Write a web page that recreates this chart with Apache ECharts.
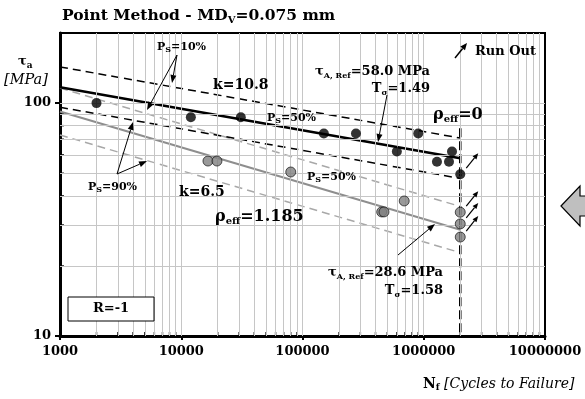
<!DOCTYPE html>
<html>
<head>
<meta charset="utf-8">
<script src="https://cdn.jsdelivr.net/npm/echarts@6/dist/echarts.min.js"></script>
<style>
  html, body { margin: 0; padding: 0; background: #fff; }
  #chart { width: 585px; height: 399px; }
</style>
</head>
<body>
<div id="chart"></div>
<script>
// axis ticks / grid
const xTicks = [1000, 10000, 100000, 1000000, 10000000];
const yTicks = [10, 100];
const xMinorGrid = [2000, 3000, 4000, 5000, 6000, 7000, 8000, 9000,
  20000, 30000, 40000, 50000, 60000, 70000, 80000, 90000,
  200000, 300000, 400000, 500000, 600000, 700000, 800000, 900000,
  2000000, 3000000, 4000000, 5000000, 6000000, 7000000, 8000000, 9000000];
const yMinorGrid = [20, 30, 40, 50, 60, 70, 80, 90];

// MD_V = 0.075 mm, rho_eff = 0 (black)
const blackFailures = [[2000, 100], [12000, 87], [31000, 87], [150000, 74], [276000, 74],
  [900000, 74], [600000, 62], [1710000, 62], [1285000, 56], [1615000, 56]];
const blackRunOut = [[2000000, 49.5]];
const blackP50 = [[1000, 117], [2000000, 58.0]];
const blackP10 = [[1000, 143], [2000000, 70.8]];
const blackP90 = [[1000, 96], [2000000, 47.5]];

// rho_eff = 1.185 (grey)
const greyFailures = [[16600, 56.4], [19700, 56.4], [80000, 50.6], [690000, 38],
  [450000, 34.1], [470000, 34.1]];
const greyRunOut = [[2000000, 34], [2000000, 30.3], [2000000, 26.6]];
const greyP50 = [[1000, 92], [2000000, 28.6]];
const greyP10 = [[1000, 116], [2000000, 36.0]];
const greyP90 = [[1000, 73], [2000000, 22.8]];

const runOutLimit = [[2000000, 78], [2000000, 10]];

const FONT = 'DejaVu Serif';
const GRID = '#c6c6c6';

const chart = echarts.init(document.getElementById('chart'));

function lineSeries(data, color, width, dashed) {
  return {
    type: 'line', data, symbol: 'none', z: 3, silent: true,
    lineStyle: { color, width, type: dashed ? [8, 5] : 'solid' }
  };
}

const isMajor = (v, list) => list.some(t => Math.abs(t - v) < 1e-6 * t);

chart.setOption({
  animation: false,
  grid: { left: 60, right: 40, top: 33, bottom: 63, show: true, borderColor: '#000', borderWidth: 2 },
  xAxis: {
    type: 'log', logBase: 10, min: 1000, max: 10000000, splitNumber: 4,
    axisLine: { lineStyle: { color: '#000', width: 3 } },
    axisTick: { length: 4, lineStyle: { color: '#000', width: 2 } },
    axisLabel: { fontFamily: FONT, fontWeight: 'bold', fontSize: 13, color: '#000', margin: 9,
      formatter: v => isMajor(v, xTicks) ? String(Math.round(v)) : '' },
    splitLine: { show: false }
  },
  yAxis: {
    type: 'log', logBase: 10, min: 10, max: 200, splitNumber: 1,
    axisLine: { lineStyle: { color: '#000', width: 3 } },
    axisTick: { length: 5, lineStyle: { color: '#000', width: 2 } },
    axisLabel: { fontFamily: FONT, fontWeight: 'bold', fontSize: 13, color: '#000', margin: 9,
      showMaxLabel: false,
      formatter: v => isMajor(v, yTicks) ? String(Math.round(v)) : '' },
    splitLine: { show: false }
  },
  series: [
    {
      type: 'line', data: [], z: 1, silent: true,
      markLine: {
        silent: true, symbol: 'none', animation: false,
        label: { show: false },
        lineStyle: { color: GRID, width: 1, type: 'solid' },
        data: xMinorGrid.concat(xTicks.slice(1, -1)).map(v => ({ xAxis: v }))
          .concat(yMinorGrid.concat([100]).map(v => ({ yAxis: v })))
      }
    },
    {
      type: 'scatter', z: 2, silent: true, symbol: 'rect', symbolSize: [1.5, 4], symbolOffset: [0, -2],
      itemStyle: { color: '#000' }, data: xMinorGrid.map(v => [v, 10])
    },
    {
      type: 'scatter', z: 2, silent: true, symbol: 'rect', symbolSize: [4, 1.5], symbolOffset: [2, 0],
      itemStyle: { color: '#000' }, data: yMinorGrid.map(v => [1000, v])
    },
    lineSeries(greyP10, '#a8a8a8', 1.5, true),
    lineSeries(greyP90, '#a8a8a8', 1.5, true),
    lineSeries(greyP50, '#8e8e8e', 2, false),
    lineSeries(blackP10, '#000', 1.5, true),
    lineSeries(blackP90, '#000', 1.5, true),
    lineSeries(blackP50, '#000', 2.5, false),
    {
      type: 'line', data: runOutLimit, symbol: 'none', z: 4, silent: true,
      lineStyle: { color: '#000', width: 2.5, type: [9, 4] }
    },
    {
      type: 'scatter', data: blackFailures.concat(blackRunOut), symbolSize: 10, z: 6,
      itemStyle: { color: '#000' }
    },
    {
      type: 'scatter', data: greyFailures.concat(greyRunOut), symbolSize: 10, z: 6,
      itemStyle: { color: '#808080', borderColor: '#000', borderWidth: 0.8 }
    }
  ]
});

// ---- annotations ----
function arrow(x1, y1, x2, y2, w, hl, hw) {
  w = w || 1; hl = hl || 8; hw = hw || 3;
  const dx = x2 - x1, dy = y2 - y1, L = Math.hypot(dx, dy), ux = dx / L, uy = dy / L;
  const bx = x2 - ux * hl, by = y2 - uy * hl;
  return [
    { type: 'line', z: 50, silent: true, shape: { x1, y1, x2: bx, y2: by }, style: { stroke: '#000', lineWidth: w } },
    { type: 'polygon', z: 50, silent: true,
      shape: { points: [[x2, y2], [bx - uy * hw, by + ux * hw], [bx + uy * hw, by - ux * hw]] },
      style: { fill: '#000' } }
  ];
}

function rich(main, sub, ital) {
  const lh = main + 3;
  return {
    m: { fontFamily: FONT, fontWeight: 'bold', fontSize: main, lineHeight: lh, verticalAlign: 'middle', fill: '#000' },
    s: { fontFamily: FONT, fontWeight: 'bold', fontSize: sub, lineHeight: lh, verticalAlign: 'bottom', fill: '#000' },
    i: { fontFamily: FONT, fontStyle: 'italic', fontSize: ital || main, lineHeight: lh, verticalAlign: 'middle', fill: '#000' }
  };
}

function text(x, y, str, main, sub, align, ital) {
  return { type: 'text', z: 60, silent: true, x, y,
    style: { text: str, rich: rich(main, sub || Math.round(main * 0.65), ital), align: align || 'left', verticalAlign: 'middle' } };
}

const g = [];
// titles
g.push(text(62, 16, '{m|Point Method - MD}{s|V}{m|=0.075 mm}', 15.5, 10));
g.push(text(18, 62, '{m|τ}{s|a}', 13, 9));
g.push({ type: 'text', z: 60, silent: true, x: 4, y: 80,
  style: { text: '[MPa]', fontFamily: FONT, fontStyle: 'italic', fontSize: 14.5, fill: '#000', verticalAlign: 'middle' } });
g.push(text(423, 384, '{m|N}{s|f}{i| [Cycles to Failure]}', 14, 9, 'left', 14));

// black family
g.push(text(157, 47, '{m|P}{s|S}{m|=10%}', 11, 8));
g.push(...arrow(177, 55, 172, 83));
g.push(...arrow(177, 55, 147, 110));
g.push(text(213, 85, '{m|k=10.8}', 14));
g.push(text(267, 118, '{m|P}{s|S}{m|=50%}', 11, 8));
g.push(text(315, 72, '{m|τ}{s|A, Ref}{m|=58.0 MPa}', 13, 8));
g.push(text(430, 89, '{m|T}{s|σ}{m|=1.49}', 13, 8, 'right'));
g.push(...arrow(387, 95, 378, 142));
g.push(text(433, 115, '{m|ρ}{s|eff}{m|=0}', 16, 10));

// grey family
g.push(text(88, 187, '{m|P}{s|S}{m|=90%}', 11, 8));
g.push(...arrow(117, 174, 133, 122));
g.push(...arrow(117, 174, 147, 161));
g.push(text(179, 192, '{m|k=6.5}', 14));
g.push(text(215, 217, '{m|ρ}{s|eff}{m|=1.185}', 16, 10));
g.push(text(307, 177, '{m|P}{s|S}{m|=50%}', 11, 8));
g.push(text(443, 273, '{m|τ}{s|A, Ref}{m|=28.6 MPa}', 13, 8, 'right'));
g.push(text(443, 291, '{m|T}{s|σ}{m|=1.58}', 13, 8, 'right'));
g.push(...arrow(398, 255, 435, 224));

// run out legend
g.push(...arrow(455, 58, 467, 43, 1.5, 7, 3));
g.push(text(475, 52, '{m|Run Out}', 13));

// run-out arrows attached to run-out points
blackRunOut.concat(greyRunOut).forEach(p => {
  const [px, py] = chart.convertToPixel({ xAxisIndex: 0, yAxisIndex: 0 }, p);
  g.push(...arrow(px + 6, py - 6, px + 18, py - 21, 1.2, 6, 2.5));
});

// R=-1 box
g.push({ type: 'rect', z: 55, silent: true, shape: { x: 68, y: 297, width: 86, height: 24 },
  style: { fill: '#fff', stroke: '#000', lineWidth: 1 } });
g.push(text(111, 309, '{m|R=-1}', 13, 9, 'center'));

// big grey arrow on the right edge
g.push({ type: 'polygon', z: 55, silent: true,
  shape: { points: [[561, 206], [580, 186], [580, 196], [590, 196], [590, 216], [580, 216], [580, 226]] },
  style: { fill: '#bfbfbf', stroke: '#000', lineWidth: 1.2 } });

chart.setOption({ graphic: g });
</script>
</body>
</html>
